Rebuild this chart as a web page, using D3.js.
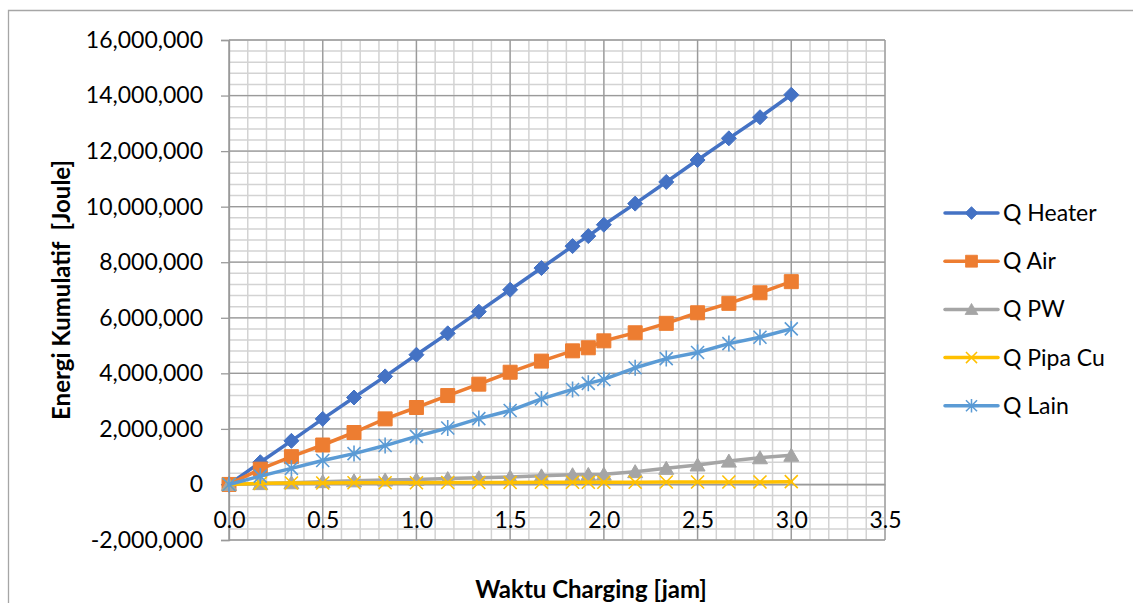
<!DOCTYPE html>
<html><head><meta charset="utf-8">
<script src="https://cdn.jsdelivr.net/npm/d3@7"></script>
<style>
html,body{margin:0;padding:0;background:#fff;}
svg{display:block;font-family:Lato,"Noto Sans",sans-serif;}
</style></head><body>
<svg id="chart" width="1133" height="603"></svg>
<script>
// Charging time [jam]
const time = [0, 0.167, 0.333, 0.5, 0.667, 0.833, 1.0, 1.167, 1.333, 1.5, 1.667, 1.833, 1.917, 2.0, 2.167, 2.333, 2.5, 2.667, 2.833, 3.0];

// Cumulative energy per component [Joule]
const qHeater = [0, 800000, 1570000, 2360000, 3130000, 3890000, 4670000, 5440000, 6220000, 7010000, 7790000, 8580000, 8940000, 9350000, 10110000, 10890000, 11680000, 12460000, 13220000, 14030000];
const qAir    = [0, 550000, 1000000, 1420000, 1870000, 2360000, 2770000, 3200000, 3610000, 4040000, 4440000, 4810000, 4920000, 5170000, 5460000, 5800000, 6180000, 6520000, 6900000, 7300000];
const qPW     = [0, 30000, 60000, 100000, 130000, 160000, 180000, 210000, 240000, 270000, 310000, 350000, 360000, 370000, 460000, 580000, 700000, 840000, 960000, 1050000];
const qPipaCu = [0, 40000, 50000, 50000, 60000, 60000, 60000, 70000, 70000, 70000, 80000, 80000, 80000, 80000, 80000, 90000, 90000, 90000, 90000, 100000];
const qLain   = [0, 300000, 580000, 860000, 1110000, 1400000, 1730000, 2030000, 2370000, 2660000, 3080000, 3420000, 3640000, 3780000, 4200000, 4530000, 4750000, 5070000, 5300000, 5600000];

const seriesNames = ["Q Heater", "Q Air", "Q PW", "Q Pipa Cu", "Q Lain"];
const seriesColors = ["#4472C4", "#ED7D31", "#A5A5A5", "#FFC000", "#5B9BD5"];
const seriesMarkers = ["diamond", "square", "triangle", "cross", "star"];

const xTicks = [0, 0.5, 1.0, 1.5, 2.0, 2.5, 3.0, 3.5];
const yTicks = [-2000000, 0, 2000000, 4000000, 6000000, 8000000, 10000000, 12000000, 14000000, 16000000];

const xTitle = "Waktu Charging [jam]";
const yTitle = "Energi Kumulatif  [Joule]";

const seriesValues = [qHeater, qAir, qPW, qPipaCu, qLain];
const series = seriesNames.map((name, i) => ({
  name, color: seriesColors[i], marker: seriesMarkers[i],
  points: time.map((t, j) => ({ t, v: seriesValues[i][j] }))
}));

const svg = d3.select("#chart");
const plot = { left: 229, right: 885, top: 40, bottom: 540 };

const x = d3.scaleLinear().domain([0, 3.5]).range([plot.left, plot.right]);
const y = d3.scaleLinear().domain([-2000000, 16000000]).range([plot.bottom, plot.top]);

// Outer chart frame
svg.append("path")
  .attr("d", `M8.5,603 V10.5 H1133`)
  .attr("fill", "none").attr("stroke", "#a6a6a6").attr("stroke-width", 1.3);

// Minor gridlines
const grid = svg.append("g");
const xMinor = d3.range(0, 3.5001, 0.1);
const yMinor = d3.range(-2000000, 16000001, 400000);
grid.selectAll(".xm").data(xMinor).join("line")
  .attr("x1", d => x(d)).attr("x2", d => x(d))
  .attr("y1", plot.top).attr("y2", plot.bottom)
  .attr("stroke", "#d3d3d3").attr("stroke-width", 1.5);
grid.selectAll(".ym").data(yMinor).join("line")
  .attr("x1", plot.left).attr("x2", plot.right)
  .attr("y1", d => y(d)).attr("y2", d => y(d))
  .attr("stroke", "#d3d3d3").attr("stroke-width", 1.5);

// Major gridlines
grid.selectAll(".xM").data(xTicks).join("line")
  .attr("x1", d => x(d)).attr("x2", d => x(d))
  .attr("y1", plot.top).attr("y2", plot.bottom)
  .attr("stroke", "#9a9a9a").attr("stroke-width", 1.3);
grid.selectAll(".yM").data(yTicks).join("line")
  .attr("x1", plot.left).attr("x2", plot.right)
  .attr("y1", d => y(d)).attr("y2", d => y(d))
  .attr("stroke", "#9a9a9a").attr("stroke-width", 1.3);

// Y axis
const fmtY = d => d3.format(",")(d).replace("\u2212", "-");
const yAxis = svg.append("g")
  .attr("transform", `translate(${plot.left},0)`)
  .call(d3.axisLeft(y).tickValues(yTicks).tickSize(8).tickPadding(18).tickFormat(fmtY));
yAxis.select(".domain").attr("stroke", "#9a9a9a").attr("stroke-width", 1.3);
yAxis.selectAll(".tick line").attr("stroke", "#9a9a9a").attr("stroke-width", 1.3);
yAxis.selectAll("text").attr("font-size", 23).attr("fill", "#000").attr("font-family", "Lato");

// X axis (crosses at zero)
const xAxis = svg.append("g")
  .attr("transform", `translate(0,${y(0)})`)
  .call(d3.axisBottom(x).tickValues(xTicks).tickSize(0).tickPadding(27).tickFormat(d3.format(".1f")));
xAxis.select(".domain").attr("stroke", "#9a9a9a").attr("stroke-width", 1.3);
xAxis.selectAll("text").attr("font-size", 23).attr("fill", "#000").attr("font-family", "Lato");

// Marker shapes
function markerPath(type) {
  switch (type) {
    case "diamond": return "M0,-7.5L7.5,0L0,7.5L-7.5,0Z";
    case "square": return "M-7,-7H7V7H-7Z";
    case "triangle": return "M0,-7L7.5,6L-7.5,6Z";
    case "cross": return "M-6.5,-6.5L6.5,6.5M-6.5,6.5L6.5,-6.5";
    case "star": return "M-6.5,-6.5L6.5,6.5M-6.5,6.5L6.5,-6.5M0,-8L0,8";
  }
}
const filled = t => t === "diamond" || t === "square" || t === "triangle";

const line = d3.line().x(d => x(d.t)).y(d => y(d.v));

const seriesG = svg.append("g").selectAll("g").data(series).join("g");
seriesG.append("path")
  .attr("d", d => line(d.points))
  .attr("fill", "none").attr("stroke", d => d.color)
  .attr("stroke-width", 3.5).attr("stroke-linejoin", "round").attr("stroke-linecap", "round");
seriesG.each(function(s) {
  d3.select(this).selectAll("path.mk").data(s.points).join("path")
    .attr("class", "mk")
    .attr("transform", d => `translate(${x(d.t)},${y(d.v)})`)
    .attr("d", markerPath(s.marker))
    .attr("fill", filled(s.marker) ? s.color : "none")
    .attr("stroke", s.color)
    .attr("stroke-width", filled(s.marker) ? 1 : 1.6);
});

// Axis titles
svg.append("text")
  .attr("x", 591).attr("y", 598)
  .attr("text-anchor", "middle").attr("font-weight", "bold").attr("font-size", 24)
  .text(xTitle);
svg.append("text")
  .attr("transform", `translate(70,${(plot.top + plot.bottom) / 2}) rotate(-90)`)
  .attr("text-anchor", "middle").attr("font-weight", "bold").attr("font-size", 24)
  .style("white-space", "pre")
  .text(yTitle);

// Legend
const legend = svg.append("g").attr("transform", "translate(945,213)");
const item = legend.selectAll("g").data(series).join("g")
  .attr("transform", (d, i) => `translate(0,${i * 48.2})`);
item.append("line").attr("x1", 0).attr("x2", 53).attr("y1", 0).attr("y2", 0)
  .attr("stroke", d => d.color).attr("stroke-width", 3.5).attr("stroke-linecap", "round");
item.append("path")
  .attr("transform", "translate(26.5,0) scale(0.85)")
  .attr("d", d => markerPath(d.marker))
  .attr("fill", d => filled(d.marker) ? d.color : "none")
  .attr("stroke", d => d.color)
  .attr("stroke-width", d => filled(d.marker) ? 1 : 1.8);
item.append("text").attr("x", 58).attr("y", 0).attr("dy", "0.35em")
  .attr("font-size", 23).attr("fill", "#000")
  .text(d => d.name);
</script>
</body></html>
